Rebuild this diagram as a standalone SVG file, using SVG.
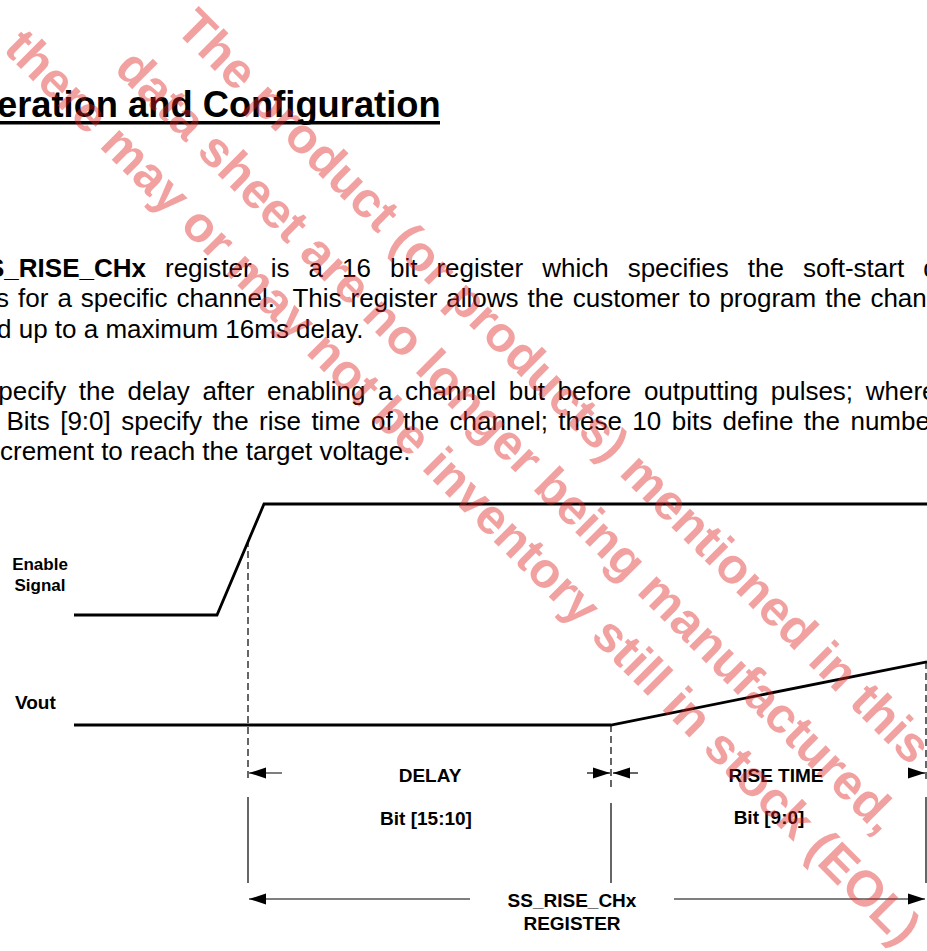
<svg xmlns="http://www.w3.org/2000/svg" width="927" height="951" viewBox="0 0 927 951">
<style>
  .t { font-family: "Liberation Sans", Arial, sans-serif; fill: #000; }
  .body { font-size: 26px; }
  .b { font-weight: bold; }
  .lbl { font-family: "Liberation Sans", Arial, sans-serif; font-weight: bold; font-size: 19px; text-anchor: middle; fill: #000; }
  .sig { fill: none; stroke: #000; stroke-width: 2.8; stroke-linejoin: miter; }
  .dash { stroke: #000; stroke-width: 1.2; stroke-dasharray: 7 4; fill: none; }
  .thin { stroke: #000; stroke-width: 1.2; fill: none; }
  .wm { font-family: "Liberation Sans", Arial, sans-serif; font-weight: bold; font-size: 50px; fill: #E01E1E; fill-opacity: 0.42; }
</style>
<defs>
  <marker id="ah" markerUnits="userSpaceOnUse" markerWidth="18" markerHeight="12" refX="17" refY="6" orient="auto">
    <path d="M0,0.5 L17,6 L0,11.5 z" fill="#000"/>
  </marker>
</defs>
<rect width="927" height="951" fill="#fff"/>

<g id="title">
  <text class="t b" x="-3" y="117" font-size="36.3">eration and Configuration</text>
  <line x1="0" y1="122.8" x2="440" y2="122.8" stroke="#000" stroke-width="3.4"/>
</g>

<g id="para1">
  <text class="t body" y="277" style="word-spacing:11.8px"><tspan class="b" x="-13">S_RISE_CHx</tspan> register is a 16 bit register which specifies the soft-start d</text>
  <text class="t body" x="-4" y="307" style="word-spacing:1.8px">s for a specific channel. <tspan dx="9">This register allows the customer to program the chan</tspan></text>
  <text class="t body" x="-3" y="338">d up to a maximum 16ms delay.</text>
</g>

<g id="para2">
  <text class="t body" x="-1.7" y="400" style="word-spacing:5.4px">pecify the delay after enabling a channel but before outputting pulses; where</text>
  <text class="t body" x="6.4" y="430" style="word-spacing:3.2px">Bits [9:0] specify the rise time of the channel; these 10 bits define the numbe</text>
  <text class="t body" x="0" y="460">crement to reach the target voltage.</text>
</g>

<g id="enable-signal">
  <text class="t b" x="40" y="570" font-size="17" text-anchor="middle">Enable</text>
  <text class="t b" x="40" y="590.5" font-size="17" text-anchor="middle">Signal</text>
  <polyline class="sig" points="74,615 217,615 264,504 927,504"/>
</g>

<g id="vout">
  <text class="t b" x="15" y="709" font-size="19">Vout</text>
  <polyline class="sig" points="74,725 611,725 927,661.8"/>
</g>

<g id="delay">
  <text class="lbl" x="430" y="782">DELAY</text>
  <text class="lbl" x="426" y="825">Bit [15:10]</text>
</g>

<g id="rise-time">
  <text class="lbl" x="776" y="782">RISE TIME</text>
  <text class="lbl" x="769" y="824">Bit [9:0]</text>
</g>

<g id="register">
  <text class="lbl" x="572" y="907">SS_RISE_CHx</text>
  <text class="lbl" x="572" y="930">REGISTER</text>
</g>

<g id="connectors">
  <line class="dash" x1="248" y1="540" x2="248" y2="781"/>
  <line class="dash" x1="611" y1="725" x2="611" y2="790"/>
  <line class="dash" x1="926" y1="662" x2="926" y2="783"/>
  <line class="thin" x1="248" y1="797" x2="248" y2="883"/>
  <line class="thin" x1="611" y1="803" x2="611" y2="883"/>
  <line class="thin" x1="926" y1="797" x2="926" y2="883"/>
  <line class="thin" x1="282" y1="773" x2="249" y2="773" marker-end="url(#ah)"/>
  <line class="thin" x1="587" y1="773" x2="610" y2="773" marker-end="url(#ah)"/>
  <line class="thin" x1="638" y1="773" x2="613" y2="773" marker-end="url(#ah)"/>
  <line class="thin" x1="909" y1="773" x2="925" y2="773" marker-end="url(#ah)"/>
  <line class="thin" x1="470" y1="899" x2="249" y2="899" marker-end="url(#ah)"/>
  <line class="thin" x1="674" y1="899" x2="925" y2="899" marker-end="url(#ah)"/>
</g>

<g id="watermark">
  <text class="wm" transform="translate(174,30) rotate(45)">The product (or products) mentioned in this</text>
  <text class="wm" transform="translate(113,70) rotate(45)">data sheet are no longer being manufactured,</text>
  <text class="wm" transform="translate(2,50) rotate(45)">there may or may not be inventory still in stock (EOL)</text>
</g>
</svg>
